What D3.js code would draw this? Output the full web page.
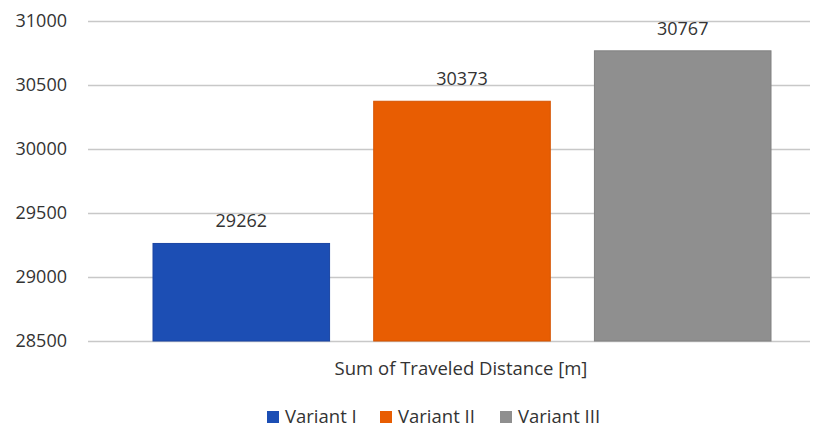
<!DOCTYPE html>
<html>
<head>
<meta charset="utf-8">
<script src="https://cdn.jsdelivr.net/npm/d3@7"></script>
<style>
  body { margin: 0; background: #fff; }
  text { font-family: "Open Sans", "Noto Sans", sans-serif; fill: #333; }
</style>
</head>
<body>
<svg id="chart" width="826" height="430"></svg>
<script>
// data
var variants = ["Variant I", "Variant II", "Variant III"];
var distances = [29262, 30373, 30767];
var colors = ["#1C4EB4", "#E85D02", "#8F8F8F"];
var borders = ["#1A45A3", "#D45402", "#808080"];
var yTicks = [28500, 29000, 29500, 30000, 30500, 31000];
var axisTitle = "Sum of Traveled Distance [m]";

var svg = d3.select("#chart");

// plot area (names avoid window.top)
var plotLeft = 88, plotRight = 810, plotTop = 21, plotBottom = 341;

var y = d3.scaleLinear()
    .domain([28500, 31000])
    .range([plotBottom, plotTop]);

var x = d3.scaleBand()
    .domain(variants)
    .range([153, 771])
    .paddingInner(0.2)
    .paddingOuter(0);

// gridlines + tick labels
var yAxis = d3.axisLeft(y)
    .tickValues(yTicks)
    .tickSize(-(plotRight - plotLeft))
    .tickPadding(21)
    .tickFormat(d3.format("d"));

var gy = svg.append("g")
    .attr("transform", "translate(" + plotLeft + ",0)")
    .call(yAxis);
gy.select(".domain").remove();
gy.selectAll(".tick line")
    .attr("stroke", "#c8c8c8")
    .attr("stroke-width", 1.5);
gy.selectAll(".tick text")
    .style("font-size", "18px")
    .attr("fill", "#333");

// bars
svg.selectAll("rect.bar")
    .data(variants)
    .enter()
    .append("rect")
    .attr("class", "bar")
    .attr("x", function(d) { return x(d); })
    .attr("width", x.bandwidth())
    .attr("y", function(d, i) { return y(distances[i]); })
    .attr("height", function(d, i) { return y(28500) - y(distances[i]); })
    .attr("fill", function(d, i) { return colors[i]; })
    .attr("stroke", function(d, i) { return borders[i]; })
    .attr("stroke-width", 1);

// value labels
svg.selectAll("text.val")
    .data(variants)
    .enter()
    .append("text")
    .attr("class", "val")
    .attr("x", function(d) { return x(d) + x.bandwidth() / 2; })
    .attr("y", function(d, i) { return y(distances[i]) - 16; })
    .attr("text-anchor", "middle")
    .style("font-size", "18px")
    .text(function(d, i) { return distances[i]; });

// axis title
svg.append("text")
    .attr("x", 461)
    .attr("y", 375)
    .attr("text-anchor", "middle")
    .style("font-size", "18.5px")
    .text(axisTitle);

// legend
var legendX = [267, 380, 500];
var legend = svg.selectAll("g.legend")
    .data(variants)
    .enter()
    .append("g")
    .attr("class", "legend")
    .attr("transform", function(d, i) { return "translate(" + legendX[i] + ",0)"; });

legend.append("rect")
    .attr("x", 0)
    .attr("y", 411)
    .attr("width", 12)
    .attr("height", 12)
    .attr("fill", function(d, i) { return colors[i]; });

legend.append("text")
    .attr("x", 18)
    .attr("y", 423)
    .style("font-size", "18.5px")
    .text(function(d) { return d; });
</script>
</body>
</html>
